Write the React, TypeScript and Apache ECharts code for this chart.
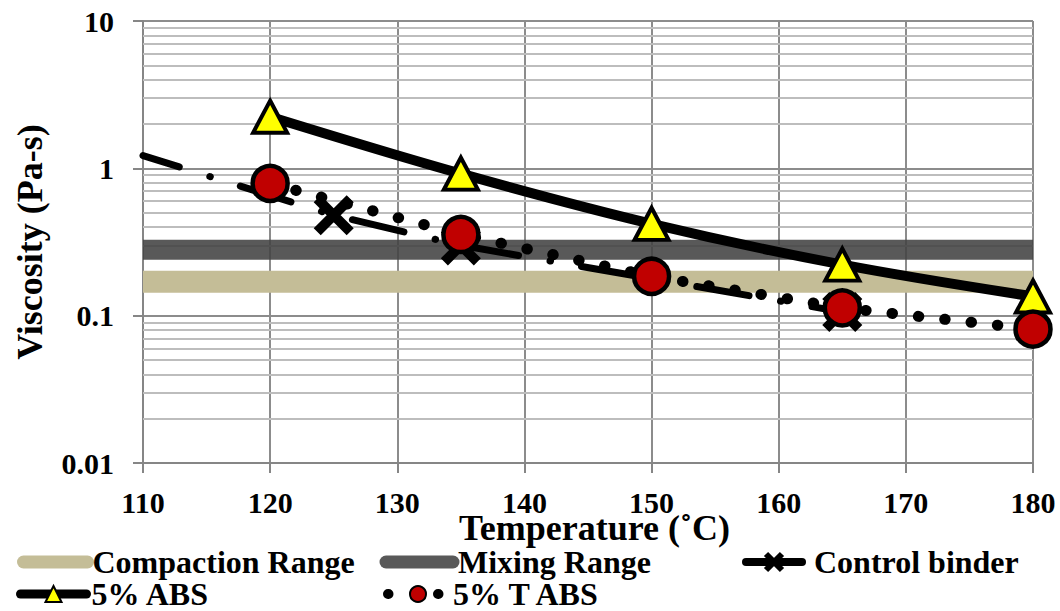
import React, { useEffect, useRef } from "react";
import * as echarts from "echarts";

// ---- data ----
const temps = [120, 135, 150, 165, 180];
const abs5 = [2.24, 0.92, 0.42, 0.222, 0.135];
const tabs5 = [0.79, 0.356, 0.185, 0.113, 0.081];
const controlTemps = [110, 125, 135, 165];
const controlBinder = [1.22, 0.48, 0.3, 0.106];
const controlMarker = [false, true, true, true];
const rangeTemps = [110, 180];
const compactionRange = 0.17;
const mixingRange = 0.28;
const decades = [0.01, 0.1, 1];
const minorSteps = [2, 3, 4, 5, 6, 7, 8, 9];

const FONT = "Liberation Serif";
const X_PATH = "path://M0,0 L20,20 M20,0 L0,20";

export default function App() {
  const ref = useRef<HTMLDivElement>(null);
  useEffect(() => {
    if (!ref.current) return;
    const chart = echarts.init(ref.current, null, { renderer: "svg" });
    const minorLines: number[] = [];
    decades.forEach((d) => minorSteps.forEach((s) => minorLines.push(Number((d * s).toPrecision(3)))));

    const textStyle = { fontFamily: FONT, fontWeight: "bold", fontSize: 32, lineHeight: 26, color: "#000" };
    const legendBase = {
      orient: "horizontal",
      padding: 0,
      itemGap: 0,
      itemHeight: 20,
      selectedMode: false,
      textStyle,
    };
    const row1 = 546;
    const row2 = 578;

    chart.setOption({
      animation: false,
      backgroundColor: "#fff",
      grid: { left: 143, right: 27, top: 21, bottom: 148, containLabel: false, outerBoundsMode: "none" },
      legend: [
        {
          ...legendBase,
          left: 17,
          top: row1,
          itemWidth: 64,
          data: ["Compaction Range"],
          itemStyle: { opacity: 0 },
          lineStyle: { width: 13, cap: "round" },
        },
        {
          ...legendBase,
          left: 379.5,
          top: row1,
          itemWidth: 67,
          data: ["Mixing Range"],
          itemStyle: { opacity: 0 },
          lineStyle: { width: 13, cap: "round", color: "#595959" },
        },
        {
          ...legendBase,
          left: 742,
          top: row1,
          itemWidth: 56,
          data: ["Control binder"],
          itemStyle: { borderWidth: 6, borderColor: "#000", color: "none" },
          lineStyle: { width: 8, type: "solid", cap: "round" },
          textStyle: { ...textStyle, padding: [0, 0, 0, 7] },
        },
        { ...legendBase, left: 16, top: row2, itemWidth: 66, data: ["5% ABS"], lineStyle: { width: 9, cap: "round" } },
        {
          ...legendBase,
          left: 383,
          top: row2,
          itemWidth: 60,
          data: ["5% T ABS"],
          lineStyle: { width: 10, type: [0.5, 49.5], dashOffset: 0, cap: "round" },
        },
      ],
      xAxis: {
        type: "value",
        min: 110,
        max: 180,
        interval: 10,
        name: "Temperature (˚C)",
        nameLocation: "middle",
        nameGap: 52,
        nameMoveOverlap: false,
        nameTextStyle: {
          fontFamily: FONT,
          fontWeight: "bold",
          fontSize: 36,
          lineHeight: 26,
          color: "#000",
          padding: [0, 0, 0, 13],
        },
        axisLine: { show: true, onZero: false, lineStyle: { color: "#868686", width: 2 } },
        axisTick: { show: true, length: 10, lineStyle: { color: "#868686", width: 2 } },
        axisLabel: { fontFamily: FONT, fontWeight: "bold", fontSize: 30, lineHeight: 22, color: "#000", margin: 28 },
        splitLine: { show: true, lineStyle: { color: "#8c8c8c", width: 2 } },
      },
      yAxis: {
        type: "log",
        logBase: 10,
        min: 0.01,
        max: 10,
        name: "Viscosity (Pa-s)",
        nameLocation: "middle",
        nameGap: 95,
        nameMoveOverlap: false,
        nameTextStyle: { fontFamily: FONT, fontWeight: "bold", fontSize: 36, color: "#000" },
        axisLine: { show: true, onZero: false, lineStyle: { color: "#868686", width: 2 } },
        axisTick: { show: true, length: 10, lineStyle: { color: "#868686", width: 2 } },
        axisLabel: {
          fontFamily: FONT,
          fontWeight: "bold",
          fontSize: 30,
          color: "#000",
          margin: 29,
          formatter: (v: number) => String(Number(Number(v).toPrecision(3))),
        },
        splitLine: { show: true, lineStyle: { color: "#8c8c8c", width: 2 } },
        minorTick: { show: false },
        minorSplitLine: { show: false },
      },
      series: [
        {
          name: "minorGrid",
          type: "line",
          data: [],
          z: 1,
          silent: true,
          symbol: "none",
          markLine: {
            z: 1,
            silent: true,
            symbol: ["none", "none"],
            label: { show: false },
            lineStyle: { color: "#bdbdbd", width: 2, type: "solid" },
            data: minorLines.map((v) => ({ yAxis: v })),
          },
        },
        {
          name: "Compaction Range",
          type: "line",
          z: 2,
          symbol: "none",
          data: rangeTemps.map((t) => [t, compactionRange]),
          lineStyle: { color: "#C4BD97", width: 22, cap: "butt" },
          itemStyle: { color: "#C4BD97" },
        },
        {
          name: "Mixing Range",
          type: "line",
          z: 2,
          symbol: "none",
          data: rangeTemps.map((t) => [t, mixingRange]),
          lineStyle: { color: "rgba(66,66,66,0.88)", width: 20, cap: "butt" },
          itemStyle: { color: "#595959" },
        },
        {
          name: "Control binder",
          type: "line",
          z: 3,
          symbol: X_PATH,
          symbolSize: 33,
          data: controlTemps.map((t, i) => ({
            value: [t, controlBinder[i]],
            symbol: controlMarker[i] ? X_PATH : "none",
          })),
          itemStyle: { color: "none", borderColor: "#000", borderWidth: 10, borderCap: "butt" },
          lineStyle: { color: "#000", width: 7, type: [53, 32, 0.5, 31.5], dashOffset: 14.5, cap: "round" },
        },
        {
          name: "5% ABS",
          type: "line",
          z: 4,
          smooth: 0.35,
          symbol: "triangle",
          symbolSize: [34, 32],
          data: temps.map((t, i) => [t, abs5[i]]),
          itemStyle: { color: "#FFFF00", borderColor: "#000", borderWidth: 4 },
          lineStyle: { color: "#000", width: 10 },
        },
        {
          name: "5% T ABS",
          type: "line",
          z: 5,
          symbol: "circle",
          symbolSize: 35,
          data: temps.map((t, i) => [t, tabs5[i]]),
          itemStyle: { color: "#C00000", borderColor: "#000", borderWidth: 4.5 },
          lineStyle: { color: "#000", width: 11, type: [0.5, 26], cap: "round" },
        },
      ],
    });
    return () => chart.dispose();
  }, []);
  return (
    <div
      ref={ref}
      style={{ position: "fixed", left: 0, top: 0, width: 1060, height: 611, background: "#fff" }}
    />
  );
}
